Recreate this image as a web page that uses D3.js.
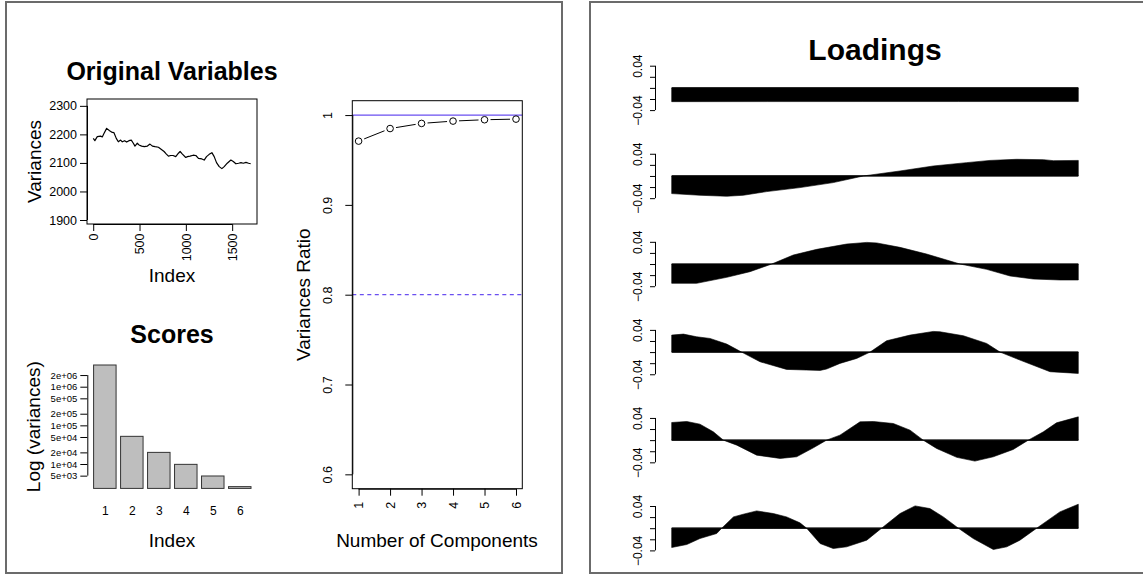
<!DOCTYPE html>
<html><head><meta charset="utf-8">
<script src="https://cdn.jsdelivr.net/npm/d3@7"></script>
<style>body{margin:0;background:#fff}</style>
</head><body>
<svg id="c" width="1143" height="576"></svg>
<script>
// ---------------- data ----------------
const origIndex = [1,18,44,80,98,116,145,177,206,224,249,271,296,314,339,361,386,411,433,451,476,494,523,552,585,613,639,668,704,729,765,790,812,837,862,891,920,938,963,999,1017,1046,1079,1108,1136,1173,1198,1223,1252,1281,1306,1331,1360,1389,1414,1447,1486,1512,1540,1569,1595,1620,1649,1677,1700];
const origVariance = [2186,2178,2192,2194,2191,2203,2221,2213,2207,2206,2186,2174,2180,2174,2178,2173,2178,2180,2169,2159,2169,2163,2159,2157,2159,2166,2159,2157,2155,2149,2140,2131,2124,2126,2126,2122,2134,2140,2131,2119,2122,2124,2127,2126,2116,2114,2110,2122,2130,2136,2122,2101,2087,2080,2087,2099,2110,2105,2097,2099,2101,2099,2102,2099,2097];
const varianceTicks = [1900,2000,2100,2200,2300];
const indexTicks = [0,500,1000,1500];

const components = [1,2,3,4,5,6];
const scoreVariances = [3.64e6,5.2e4,2.0e4,9.8e3,4.9e3,2.6e3];
const scoreTicks = [2e6,1e6,5e5,2e5,1e5,5e4,2e4,1e4,5e3];
const scoreTickLabels = ["2e+06","1e+06","5e+05","2e+05","1e+05","5e+04","2e+04","1e+04","5e+03"];

const cumRatio = [0.971,0.985,0.9907,0.9933,0.9948,0.9955];
const ratioTicks = [0.6,0.7,0.8,0.9,1];
const ratioTickLabels = ["0.6","0.7","0.8","0.9","1"];
const ratioRefSolid = 1;
const ratioRefDashed = 0.8;

const loadingsPC1 = [[1,-0.0248],[400,-0.0247],[800,-0.0246],[1200,-0.0246],[1700,-0.0246]];
const loadingsPC2 = [[1,-0.0318],[119,-0.0348],[231,-0.0366],[300,-0.0348],[398,-0.0282],[537,-0.021],[676,-0.012],[802,0],[955,0.009],[1094,0.018],[1233,0.024],[1331,0.028],[1442,0.030],[1554,0.0294],[1596,0.0276],[1700,0.028]];
const loadingsPC3 = [[1,-0.0348],[105,-0.0348],[231,-0.024],[328,-0.0138],[419,0],[509,0.0162],[607,0.0264],[732,0.036],[816,0.039],[858,0.038],[955,0.030],[1066,0.018],[1206,0],[1317,-0.0096],[1415,-0.0216],[1512,-0.027],[1623,-0.0288],[1700,-0.0288]];
const loadingsPC4 = [[1,0.0306],[50,0.0324],[105,0.0276],[161,0.0246],[231,0.0144],[293,0],[370,-0.0174],[481,-0.0312],[565,-0.0324],[621,-0.033],[648,-0.0306],[704,-0.0204],[774,-0.0114],[830,0],[899,0.0204],[997,0.0306],[1094,0.0372],[1122,0.0366],[1220,0.0294],[1317,0.0156],[1373,0],[1456,-0.0144],[1582,-0.0354],[1700,-0.0384]];
const loadingsPC5 = [[1,0.0318],[64,0.0336],[119,0.0288],[175,0.015],[217,0],[273,-0.009],[356,-0.027],[454,-0.033],[523,-0.030],[593,-0.0138],[648,0],[704,0.009],[788,0.033],[844,0.0336],[927,0.030],[997,0.018],[1052,0],[1108,-0.015],[1192,-0.031],[1268,-0.0378],[1345,-0.030],[1428,-0.0168],[1491,0],[1554,0.015],[1609,0.0312],[1700,0.042]];
const loadingsPC6 = [[1,-0.0348],[64,-0.0294],[119,-0.0186],[189,-0.0096],[210,0],[259,0.0204],[300,0.0252],[356,0.0312],[426,0.0264],[481,0.0204],[537,0.0096],[565,0],[621,-0.0276],[676,-0.0366],[732,-0.0336],[816,-0.0216],[878,0],[955,0.0264],[1018,0.0402],[1080,0.0354],[1136,0.0204],[1199,0],[1261,-0.0186],[1345,-0.0384],[1401,-0.0336],[1456,-0.0216],[1526,0],[1623,0.0294],[1700,0.0432]];
const loadingTicks = [-0.04,-0.02,0,0.02,0.04];
const loadingTickLabels = {"-0.04":"\u22120.04","0.04":"0.04"};

// ---------------- drawing ----------------
const FONT = '"Liberation Sans", Arial, Helvetica, sans-serif';
const svg = d3.select("#c");
svg.append("rect").attr("width",1143).attr("height",576).attr("fill","#fff");

function frame(x,y,w,h){
  svg.append("rect").attr("x",x).attr("y",y).attr("width",w).attr("height",h)
    .attr("fill","none").attr("stroke","#6b6b6b").attr("stroke-width",2);
}
frame(6,2,556,571);
frame(590,2,600,571);

function txt(x,y,s,size,opts={}){
  const t = svg.append("text").attr("x",x).attr("y",y).text(s)
    .attr("font-family",FONT).attr("font-size",size).attr("fill","#000")
    .attr("text-anchor",opts.anchor||"middle");
  if(opts.bold) t.attr("font-weight","bold");
  if(opts.rot){ t.attr("transform",`rotate(-90,${x},${y})`).attr("dy","0.35em"); }
  return t;
}
function styleAxis(g,fs){
  g.attr("font-family",FONT).attr("font-size",fs);
  g.selectAll("line").attr("stroke","#000");
  g.selectAll("text").attr("fill","#000");
  g.select(".domain").attr("stroke","#000");
}
function box(x0,y0,x1,y1){
  svg.append("rect").attr("x",x0).attr("y",y0).attr("width",x1-x0).attr("height",y1-y0)
    .attr("fill","none").attr("stroke","#000").attr("stroke-width",1);
}

// ---- Plot A: Original Variables ----
{
  const x = d3.scaleLinear().domain([-67,1768]).range([87,257]);
  const y = d3.scaleLinear().domain([1886,2324]).range([224,99]);
  const line = d3.line().x((d,i)=>x(origIndex[i])).y(d=>y(d));
  svg.append("path").datum(origVariance).attr("d",line).attr("fill","none")
    .attr("stroke","#000").attr("stroke-width",1.2).attr("stroke-linejoin","round");
  box(87,99,257,224);
  const gy = svg.append("g").attr("transform","translate(87,0)")
    .call(d3.axisLeft(y).tickValues(varianceTicks).tickSize(7).tickSizeOuter(0).tickPadding(3).tickFormat(d3.format("d")));
  styleAxis(gy,12.5);
  gy.select(".domain").attr("d",`M0.5,${y(varianceTicks[0])}V${y(varianceTicks[varianceTicks.length-1])}`);
  const gx = svg.append("g").attr("transform","translate(0,224)")
    .call(d3.axisBottom(x).tickValues(indexTicks).tickSize(7).tickSizeOuter(0).tickFormat(d3.format("d")));
  styleAxis(gx,12.5);
  gx.select(".domain").attr("d",`M${x(indexTicks[0])},0.5H${x(indexTicks[indexTicks.length-1])}`);
  gx.selectAll("text").attr("transform","rotate(-90)").attr("x",-9.5).attr("y",0).attr("dy","0.35em").attr("text-anchor","end");
  txt(172,80,"Original Variables",25,{bold:true});
  txt(34,161.5,"Variances",19,{rot:true});
  txt(172,282,"Index",19);
}

// ---- Plot B: Scores ----
{
  const x = d3.scaleLinear().domain([-0.08,7.48]).range([87.3,257.3]);
  const y = d3.scaleLog().domain([2340,3.64e6]).range([488.4,365.0]);
  const base = 2340;
  svg.append("g").selectAll("rect").data(scoreVariances).join("rect")
    .attr("x",(d,i)=>x(0.2+1.2*i)).attr("width",(d,i)=>x(1.2+1.2*i)-x(0.2+1.2*i))
    .attr("y",d=>y(d)).attr("height",d=>y(base)-y(d))
    .attr("fill","#bebebe").attr("stroke","#333").attr("stroke-width",1);
  const gy = svg.append("g").attr("transform","translate(87.3,0)")
    .call(d3.axisLeft(y).tickValues(scoreTicks).tickSize(7).tickSizeOuter(0).tickPadding(3)
      .tickFormat((d,i)=>scoreTickLabels[i]));
  styleAxis(gy,9.5);
  gy.select(".domain").attr("d",`M0.5,${y(scoreTicks[0])}V${y(scoreTicks[scoreTicks.length-1])}`);
  const xb = d3.scaleLinear().domain([1,6]).range([x(0.7),x(6.7)]);
  const gx = svg.append("g").attr("transform","translate(0,504)")
    .call(d3.axisBottom(xb).tickValues(components).tickSize(0).tickPadding(0).tickFormat(d3.format("d")));
  styleAxis(gx,12);
  gx.select(".domain").remove();
  gx.selectAll("text").attr("y",0).attr("dy","0.92em");
  txt(172,343,"Scores",25,{bold:true});
  txt(33,426.7,"Log (variances)",19,{rot:true});
  txt(172,546.7,"Index",19);
}

// ---- Plot C: Variances Ratio ----
{
  const x = d3.scaleLinear().domain([0.8,6.2]).range([352.3,522.3]);
  const y = d3.scaleLinear().domain([0.584,1.016]).range([488.7,100.7]);
  const refColor = "#6a4ff0";
  svg.append("line").attr("x1",352.3).attr("x2",522.3).attr("y1",y(ratioRefSolid)).attr("y2",y(ratioRefSolid))
    .attr("stroke",refColor).attr("stroke-width",1.3);
  svg.append("line").attr("x1",352.3).attr("x2",522.3).attr("y1",y(ratioRefDashed)).attr("y2",y(ratioRefDashed))
    .attr("stroke",refColor).attr("stroke-width",1.3).attr("stroke-dasharray","4,3.5");
  const pts = cumRatio.map((v,i)=>[x(components[i]),y(v)]);
  const gap = 6;
  for(let i=0;i<pts.length-1;i++){
    const [x1,y1]=pts[i],[x2,y2]=pts[i+1];
    const dx=x2-x1, dy=y2-y1, L=Math.hypot(dx,dy);
    svg.append("line").attr("x1",x1+dx/L*gap).attr("y1",y1+dy/L*gap)
      .attr("x2",x2-dx/L*gap).attr("y2",y2-dy/L*gap).attr("stroke","#000").attr("stroke-width",1);
  }
  svg.append("g").selectAll("circle").data(cumRatio).join("circle")
    .attr("cx",(d,i)=>x(components[i])).attr("cy",d=>y(d)).attr("r",3.3)
    .attr("fill","none").attr("stroke","#000").attr("stroke-width",1);
  box(352.3,100.7,522.3,488.7);
  const gy = svg.append("g").attr("transform","translate(352.3,0)")
    .call(d3.axisLeft(y).tickValues(ratioTicks).tickSize(7).tickSizeOuter(0).tickFormat((d,i)=>ratioTickLabels[i]));
  styleAxis(gy,12.5);
  gy.select(".domain").attr("d",`M0.5,${y(ratioTicks[0])}V${y(ratioTicks[ratioTicks.length-1])}`);
  gy.selectAll("text").attr("transform","rotate(-90)").attr("x",0).attr("y",-24.3).attr("dy","0.35em").attr("text-anchor","middle");
  const gx = svg.append("g").attr("transform","translate(0,488.7)")
    .call(d3.axisBottom(x).tickValues(components).tickSize(7).tickSizeOuter(0).tickFormat(d3.format("d")));
  styleAxis(gx,12.5);
  gx.select(".domain").attr("d",`M${x(1)},0.5H${x(6)}`);
  gx.selectAll("text").attr("transform","rotate(-90)").attr("x",-13).attr("y",0).attr("dy","0.35em").attr("text-anchor","end");
  txt(437,546.7,"Number of Components",19);
  txt(303,294.7,"Variances Ratio",19,{rot:true});
}

// ---- Plot D: Loadings ----
{
  const loadings = [loadingsPC1,loadingsPC2,loadingsPC3,loadingsPC4,loadingsPC5,loadingsPC6];
  const x = d3.scaleLinear().domain([1,1700]).range([671.7,1078.3]);
  loadings.forEach((data,k)=>{
    const top = 65.7 + 88.06*k;
    const y = d3.scaleLinear().domain([-0.04,0.04]).range([top+44.4,top]);
    const area = d3.area().x(d=>x(d[0])).y0(y(0)).y1(d=>y(d[1]));
    svg.append("path").datum(data).attr("d",area).attr("fill","#000").attr("stroke","#000").attr("stroke-width",0.6);
    svg.append("line").attr("x1",x(1)).attr("x2",x(1700)).attr("y1",y(0)).attr("y2",y(0))
      .attr("stroke","#000").attr("stroke-width",1.2);
    const g = svg.append("g").attr("transform","translate(655,0)")
      .call(d3.axisLeft(y).tickValues(loadingTicks).tickSize(5).tickSizeOuter(0)
        .tickFormat(d=>loadingTickLabels[String(d)]||""));
    styleAxis(g,12);
    g.select(".domain").attr("d",`M0.5,${y(0.04)}V${y(-0.04)}`);
    g.selectAll("text").attr("transform","rotate(-90)").attr("x",0).attr("y",-17).attr("dy","0.35em").attr("text-anchor","middle");
  });
  txt(875,60,"Loadings",30,{bold:true});
}
</script>
</body></html>
